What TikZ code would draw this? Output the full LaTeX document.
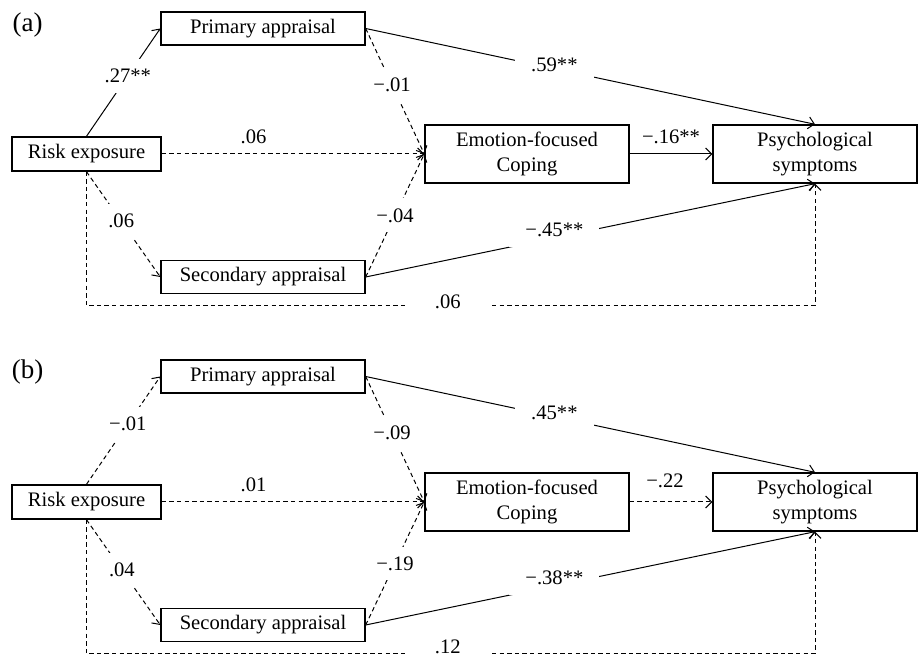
\documentclass[tikz,border=0pt]{standalone}
\usepackage{fontspec}
\setmainfont{Liberation Serif}
\usetikzlibrary{positioning,arrows.meta}

\begin{document}
\begin{tikzpicture}[
    on grid,
    line width=0.5pt,
    font=\fontsize{10.3}{12.5}\selectfont,
    >={Straight Barb[length=3pt,width=6pt]},
    box/.style={draw,rectangle,line width=0.7pt,minimum width=102pt,minimum height=16.5pt,inner sep=1pt},
    big/.style={box,align=center,minimum height=29pt},
    risk/.style={box,minimum width=74.5pt,minimum height=17pt},
    gap/.style={fill=white,inner xsep=8pt,inner ysep=5pt},
    tag/.style={font=\fontsize{13.5}{16}\selectfont},
    dsh/.style={dash pattern=on 2.2pt off 1.6pt}
    ]
        \useasboundingbox (0,0) rectangle (459pt,-328pt);

        % panel (a)
        \node [tag](tagA) at (13.8pt,-12.5pt) {(a)};
        \node [risk](RE) at (43.25pt,-77pt) {Risk exposure};
        \node [box](PA) [above right=62.75pt and 88.25pt of RE] {Primary appraisal};
        \node [box](SA) [below right=61.5pt and 88.25pt of RE] {Secondary appraisal};
        \node [big](EC) [right=220.25pt of RE] {Emotion-focused\\Coping};
        \node [big](PS) [right=144pt of EC] {Psychological\\symptoms};
        \draw [->] (RE.north) -- node[gap,pos=0.56] {.27**} (PA.west);
        \draw [->,dsh] (RE.east) -- node[above,pos=0.35,inner sep=5pt] {.06} (EC.west);
        \draw [->,dsh] (RE.south) -- node[gap,pos=0.47] {.06} (SA.west);
        \draw [->,dsh] (PA.east) -- node[gap,pos=0.45] {−.01} (EC.west);
        \draw [->,dsh] (SA.east) -- node[gap,pos=0.5] {−.04} (EC.west);
        \draw [->] (PA.east) -- node[gap,pos=0.42,yshift=2pt] {.59**} (PS.north);
        \draw [->] (SA.east) -- node[gap,pos=0.42,yshift=4pt] {−.45**} (PS.south);
        \draw [->] (EC.east) -- node[above,inner sep=5pt] {−.16**} (PS.west);
        \draw [->,dsh] (RE.south) -- ++(0,-67pt) -| node[gap,pos=0.248,inner xsep=14pt,yshift=2pt] {.06} (PS.south);

        % panel (b)
        \node [tag](tagB) at (13.8pt,-186pt) {(b)};
        \node [risk](REb) [below=174pt of RE] {Risk exposure};
        \node [box](PAb) [above right=62.75pt and 88.25pt of REb] {Primary appraisal};
        \node [box](SAb) [below right=61.5pt and 88.25pt of REb] {Secondary appraisal};
        \node [big](ECb) [right=220.25pt of REb] {Emotion-focused\\Coping};
        \node [big](PSb) [right=144pt of ECb] {Psychological\\symptoms};
        \draw [->,dsh] (REb.north) -- node[gap,pos=0.56] {−.01} (PAb.west);
        \draw [->,dsh] (REb.east) -- node[above,pos=0.35,inner sep=5pt] {.01} (ECb.west);
        \draw [->,dsh] (REb.south) -- node[gap,pos=0.48] {.04} (SAb.west);
        \draw [->,dsh] (PAb.east) -- node[gap,pos=0.45] {−.09} (ECb.west);
        \draw [->,dsh] (SAb.east) -- node[gap,pos=0.5] {−.19} (ECb.west);
        \draw [->] (PAb.east) -- node[gap,pos=0.42,yshift=2pt] {.45**} (PSb.north);
        \draw [->] (SAb.east) -- node[gap,pos=0.42,yshift=4pt] {−.38**} (PSb.south);
        \draw [->,dsh] (ECb.east) -- node[above,inner sep=7pt,xshift=-3pt] {−.22} (PSb.west);
        \draw [->,dsh] (REb.south) -- ++(0,-67pt) -| node[gap,pos=0.248,inner xsep=14pt,yshift=3.2pt] {.12} (PSb.south);

\end{tikzpicture}
\end{document}
